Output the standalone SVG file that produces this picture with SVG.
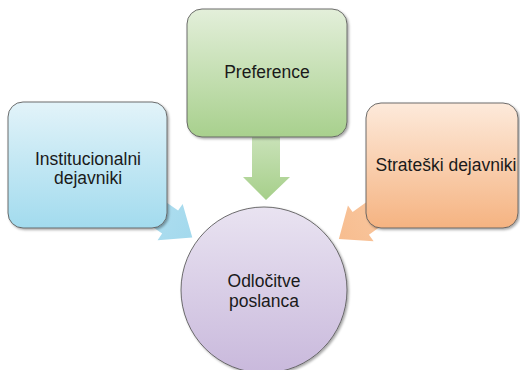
<svg xmlns="http://www.w3.org/2000/svg" width="520" height="370" viewBox="0 0 520 370">
  <defs>
    <linearGradient id="gBlue" x1="0" y1="0" x2="0" y2="1">
      <stop offset="0" stop-color="#e2f3f9"/>
      <stop offset="1" stop-color="#a2dbee"/>
    </linearGradient>
    <linearGradient id="gGreen" x1="0" y1="0" x2="0" y2="1">
      <stop offset="0" stop-color="#e3efda"/>
      <stop offset="1" stop-color="#a8d08d"/>
    </linearGradient>
    <linearGradient id="gOrange" x1="0" y1="0" x2="0" y2="1">
      <stop offset="0" stop-color="#fdeadb"/>
      <stop offset="1" stop-color="#f5b381"/>
    </linearGradient>
    <linearGradient id="gPurple" x1="0" y1="0" x2="0" y2="1">
      <stop offset="0" stop-color="#e9e3f1"/>
      <stop offset="1" stop-color="#c9b9dc"/>
    </linearGradient>
    <linearGradient id="gArrowGreen" x1="0" y1="0" x2="0" y2="1">
      <stop offset="0" stop-color="#cde4bd"/>
      <stop offset="1" stop-color="#a6cf8a"/>
    </linearGradient>
    <linearGradient id="gArrowBlue" x1="0" y1="0" x2="1" y2="0">
      <stop offset="0" stop-color="#bfe5f3"/>
      <stop offset="1" stop-color="#a3d9ed"/>
    </linearGradient>
    <linearGradient id="gArrowOrange" x1="0" y1="0" x2="1" y2="0">
      <stop offset="0" stop-color="#fbd2b3"/>
      <stop offset="1" stop-color="#f7bd8f"/>
    </linearGradient>
    <filter id="sh" x="-10%" y="-10%" width="125%" height="125%">
      <feDropShadow dx="1.5" dy="1.5" stdDeviation="1.2" flood-color="#000" flood-opacity="0.35"/>
    </filter>
  </defs>
  <style>
    .node { stroke: #5e5e5e; stroke-width: 0.9; filter: url(#sh); }
    .lbl { font-family: "Liberation Sans", Arial, sans-serif; font-size: 17.5px; fill: #1a1a1a; text-anchor: middle; }
  </style>
  <rect width="520" height="370" fill="#ffffff"/>

  <g id="connectors">
    <polygon id="arrow-green" fill="url(#gArrowGreen)" points="252,130 280,130 280,177 290,177 266,200 243,177 252,177"/>
    <g transform="translate(88,165) rotate(34.8)">
      <polygon id="arrow-blue" fill="url(#gArrowBlue)" points="0,-14 100,-14 100,-22 127,0 100,22 100,14 0,14"/>
    </g>
    <g transform="translate(442,165) rotate(144.3)">
      <polygon id="arrow-orange" fill="url(#gArrowOrange)" points="0,-14 100,-14 100,-22 127,0 100,22 100,14 0,14"/>
    </g>
  </g>

  <g id="node-institucionalni">
    <rect class="node" x="8" y="102" width="159" height="126" rx="15" fill="url(#gBlue)"/>
    <text class="lbl" x="88" y="165">Institucionalni</text>
    <text class="lbl" x="88" y="184">dejavniki</text>
  </g>

  <g id="node-preference">
    <rect class="node" x="187" y="9" width="160" height="128" rx="15" fill="url(#gGreen)"/>
    <text class="lbl" x="267" y="78">Preference</text>
  </g>

  <g id="node-strateski">
    <rect class="node" x="366" y="103" width="152" height="125" rx="15" fill="url(#gOrange)"/>
    <text class="lbl" x="446" y="171">Strateški dejavniki</text>
  </g>

  <g id="node-odlocitve">
    <circle class="node" cx="264" cy="290" r="83" fill="url(#gPurple)"/>
    <text class="lbl" x="264" y="287">Odločitve</text>
    <text class="lbl" x="264" y="307">poslanca</text>
  </g>
</svg>
